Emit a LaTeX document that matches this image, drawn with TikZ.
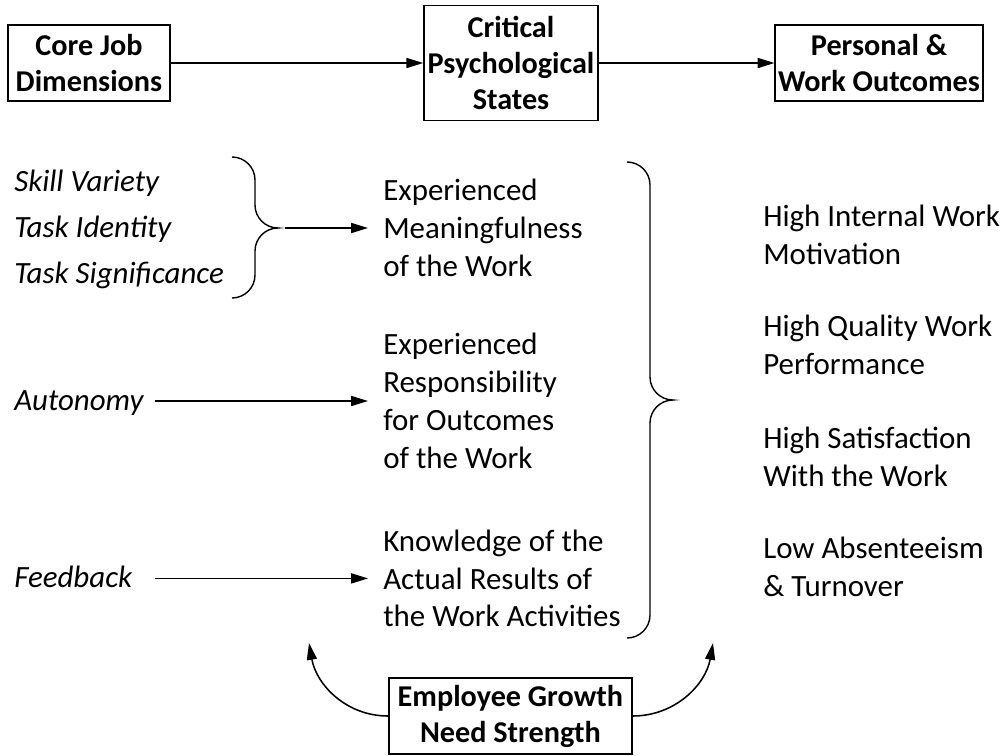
\documentclass[tikz,border=0pt]{standalone}
\usepackage{fontspec}
\setmainfont{Carlito}
\usetikzlibrary{positioning, arrows.meta, calc}

\begin{document}
\begin{tikzpicture}[
    % Global Styles
    >={Triangle[length=0.42cm, width=0.25cm]},
    % Style for the framed headings
    head_box/.style={draw, line width=1.1pt, inner sep=2pt, align=center,
        font=\bfseries\fontsize{21.5}{25.6}\selectfont},
    % Style for the plain text blocks
    state_text/.style={anchor=west, inner sep=0pt, align=left,
        font=\fontsize{22}{27}\selectfont},
    dim_text/.style={anchor=base west, inner sep=0pt, align=left,
        font=\itshape\fontsize{22}{27}\selectfont},
    % Style for arrows and braces
    flow/.style={->, line width=1.2pt},
    link/.style={->, line width=1.1pt, shorten >=0.375cm},
    brace_line/.style={line width=1pt}
]

% Canvas
\useasboundingbox (0,0) rectangle (25.125,-18.875);

%% --- TOP ROW: MODEL HEADINGS ---
\node[head_box, minimum width=4.05cm, minimum height=1.9cm] (core) at (2.225,-1.575) {Core Job\\Dimensions};
\node[head_box, minimum width=4.35cm, minimum height=2.875cm] (cps) at (12.775,-1.575) {Critical\\Psychological\\States};
\node[head_box, minimum width=5.15cm, minimum height=1.9cm] (pwo) at (21.975,-1.575) {Personal \&\\Work Outcomes};

\draw[flow] (core) -- (cps);
\draw[flow] (cps) -- (pwo);

%% --- LEFT COLUMN: CORE DIMENSIONS ---
\node[dim_text] (skill) at (0.35,-4.775) {Skill Variety};
\node[dim_text] (identity) at (0.35,-5.925) {Task Identity};
\node[dim_text] (signif) at (0.35,-7.075) {Task Significance};
\node[dim_text, text width=3.5cm] (autonomy) at (0.35,-10.25) {Autonomy};
\node[dim_text, text width=3.5cm] (feedback) at (0.35,-14.675) {Feedback};

% Small brace round the first three
\draw[brace_line] (5.8,-3.925) arc[start angle=90, end angle=0, radius=0.575cm]
    -- (6.375,-5.125) arc[start angle=180, end angle=270, radius=0.575cm]
    coordinate (lbrace_tip)
    arc[start angle=90, end angle=180, radius=0.575cm]
    -- (6.375,-6.875) arc[start angle=0, end angle=-90, radius=0.575cm];

%% --- MIDDLE COLUMN: PSYCHOLOGICAL STATES ---
\node[state_text] (meaning) at (9.575,-5.7) {Experienced\\Meaningfulness\\of the Work};
\node[state_text] (resp) at (9.575,-10.025) {Experienced\\Responsibility\\for Outcomes\\of the Work};
\node[state_text] (knowledge) at (9.575,-14.46) {Knowledge of the\\Actual Results of\\the Work Activities};

\draw[link, shorten <=0.175cm] (lbrace_tip) -- (meaning.west);
\draw[link] (resp.west -| autonomy.east) -- (resp.west);
\draw[link] (knowledge.west -| feedback.east) -- (knowledge.west);

% Large brace round the three states
\draw[brace_line] (15.675,-4.05) arc[start angle=90, end angle=0, radius=0.575cm]
    -- (16.25,-9.425) arc[start angle=180, end angle=270, radius=0.575cm]
    coordinate (rbrace_tip)
    arc[start angle=90, end angle=180, radius=0.575cm]
    -- (16.25,-15.375) arc[start angle=0, end angle=-90, radius=0.575cm];

%% --- RIGHT COLUMN: OUTCOMES ---
\node[state_text] (motiv) at (19.075,-5.87) {High Internal Work\\Motivation};
\node[state_text] (perf) at (19.075,-8.63) {High Quality Work\\Performance};
\node[state_text] (satis) at (19.075,-11.41) {High Satisfaction\\With the Work};
\node[state_text] (absent) at (19.075,-14.16) {Low Absenteeism\\\& Turnover};

%% --- BOTTOM: MODERATOR ---
\node[head_box, minimum width=6.075cm, minimum height=1.9cm] (growth) at (12.76,-17.9) {Employee Growth\\Need Strength};
\coordinate (grow_l) at (7.725,-16.075);
\coordinate (grow_r) at (17.825,-16.075);

\draw[->, line width=1.1pt] (growth.west) to[out=180, in=-80] (grow_l);
\draw[->, line width=1.1pt] (growth.east) to[out=0, in=-100] (grow_r);

\end{tikzpicture}
\end{document}
